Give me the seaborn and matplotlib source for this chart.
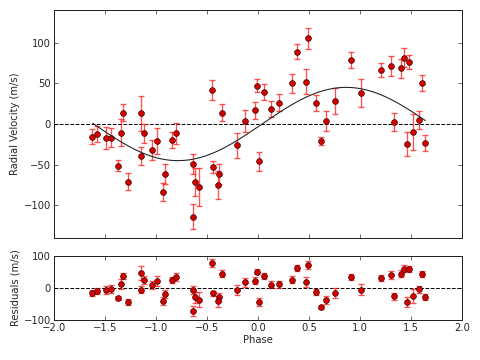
import numpy as np
import pandas as pd
import seaborn as sns
import matplotlib.pyplot as plt

# phase-folded radial velocities
phase = [-1.627, -1.575, -1.486, -1.444, -1.375, -1.339, -1.324, -1.275, -1.150, -1.150,
         -1.118, -1.035, -0.986, -0.931, -0.908, -0.843, -0.800, -0.637, -0.633, -0.614,
         -0.578, -0.454, -0.444, -0.382, -0.388, -0.356, -0.202, -0.130, -0.029, -0.006,
         0.010, 0.063, 0.131, 0.206, 0.333, 0.382, 0.474, 0.490, 0.569, 0.618,
         0.667, 0.752, 0.912, 1.010, 1.210, 1.304, 1.333, 1.402, 1.435, 1.463,
         1.484, 1.515, 1.582, 1.608, 1.641]
rv = [-15.4, -12.2, -16.7, -16.7, -51.2, -10.6, 13.8, -70.7, 13.0, -39.8,
      -11.4, -31.7, -20.7, -83.7, -61.4, -19.9, -11.4, -48.8, -113.8, -71.1,
      -77.6, 41.5, -52.4, -61.4, -74.8, 13.8, -26.4, 3.7, 16.7, 47.2,
      -45.9, 39.0, 18.3, 26.0, 50.0, 89.0, 52.0, 105.3, 26.0, -20.7,
      3.7, 28.5, 78.5, 38.2, 66.7, 71.1, 2.4, 68.3, 81.3, -24.6,
      76.4, -10.0, 4.9, 50.0, -23.6]
rv_err = [9.4, 9.5, 13.4, 11.6, 6.5, 16.2, 10.2, 10.2, 21.1, 11.0,
          11.8, 12.6, 16.3, 11.4, 12.2, 9.8, 13.0, 12.2, 15.4, 17.0,
          23.3, 12.0, 7.5, 12.0, 17.0, 10.2, 15.0, 13.5, 10.6, 8.5,
          11.5, 9.8, 10.2, 10.6, 11.5, 9.0, 15.4, 12.6, 10.2, 5.3,
          12.6, 16.3, 10.0, 17.0, 8.7, 12.2, 11.0, 11.8, 11.6, 14.8,
          8.5, 22.0, 11.0, 9.6, 9.8]

# fitted orbit (semi-amplitude, period in phase units, zero crossing)
K = 45.0
P = 3.3
t0 = 0.04
curve_start, curve_end = -1.62, 1.64

df = pd.DataFrame({'phase': phase, 'rv': rv, 'err': rv_err})
df['model'] = K * np.sin(2 * np.pi * (df['phase'] - t0) / P)
df['resid'] = df['rv'] - df['model']

xs = np.linspace(curve_start, curve_end, 300)
fit = pd.DataFrame({'phase': xs, 'rv': K * np.sin(2 * np.pi * (xs - t0) / P)})

sns.set_style("ticks")
plt.rcParams['font.family'] = ['DejaVu Sans']
plt.rcParams['font.size'] = 12
plt.rcParams['xtick.direction'] = 'in'
plt.rcParams['ytick.direction'] = 'in'
plt.rcParams['xtick.top'] = True
plt.rcParams['ytick.right'] = True
plt.rcParams['xtick.major.size'] = 5
plt.rcParams['ytick.major.size'] = 5
plt.rcParams['axes.edgecolor'] = '#222222'
plt.rcParams['axes.linewidth'] = 1.2

fig = plt.figure(figsize=(8, 6), dpi=60)
ax1 = fig.add_axes([0.1125, 0.3389, 0.85, 0.6333])
ax2 = fig.add_axes([0.1125, 0.1111, 0.85, 0.1778])

def draw(ax, ycol):
    ax.errorbar(df['phase'], df[ycol], yerr=df['err'], fmt='none', ecolor='#ff1a1a',
                alpha=0.75, elinewidth=1.6, capsize=4, capthick=1.6, zorder=2)
    sns.scatterplot(data=df, x='phase', y=ycol, ax=ax, color='#d40000', s=48,
                    edgecolor='#3a0000', linewidth=0.8, zorder=3, legend=False)
    ax.axhline(0, color='black', ls='--', lw=1.2, zorder=1)
    ax.set_xlim(-2, 2)
    ax.set_xticks(np.arange(-2, 2.01, 0.5))

draw(ax1, 'rv')
sns.lineplot(data=fit, x='phase', y='rv', ax=ax1, color='#222222', lw=1.3, sort=False, zorder=4)
ax1.set_ylim(-140, 140)
ax1.set_yticks([-100, -50, 0, 50, 100])
ax1.set_xticklabels([])
ax1.set_xlabel('')
ax1.set_ylabel('Radial Velocity (m/s)')

draw(ax2, 'resid')
ax2.set_ylim(-100, 100)
ax2.set_yticks([-100, 0, 100])
ax2.set_xlabel('Phase', labelpad=2)
ax2.set_ylabel('Residuals (m/s)')

fig.align_ylabels([ax1, ax2])
fig.savefig('out.png', dpi=60)
